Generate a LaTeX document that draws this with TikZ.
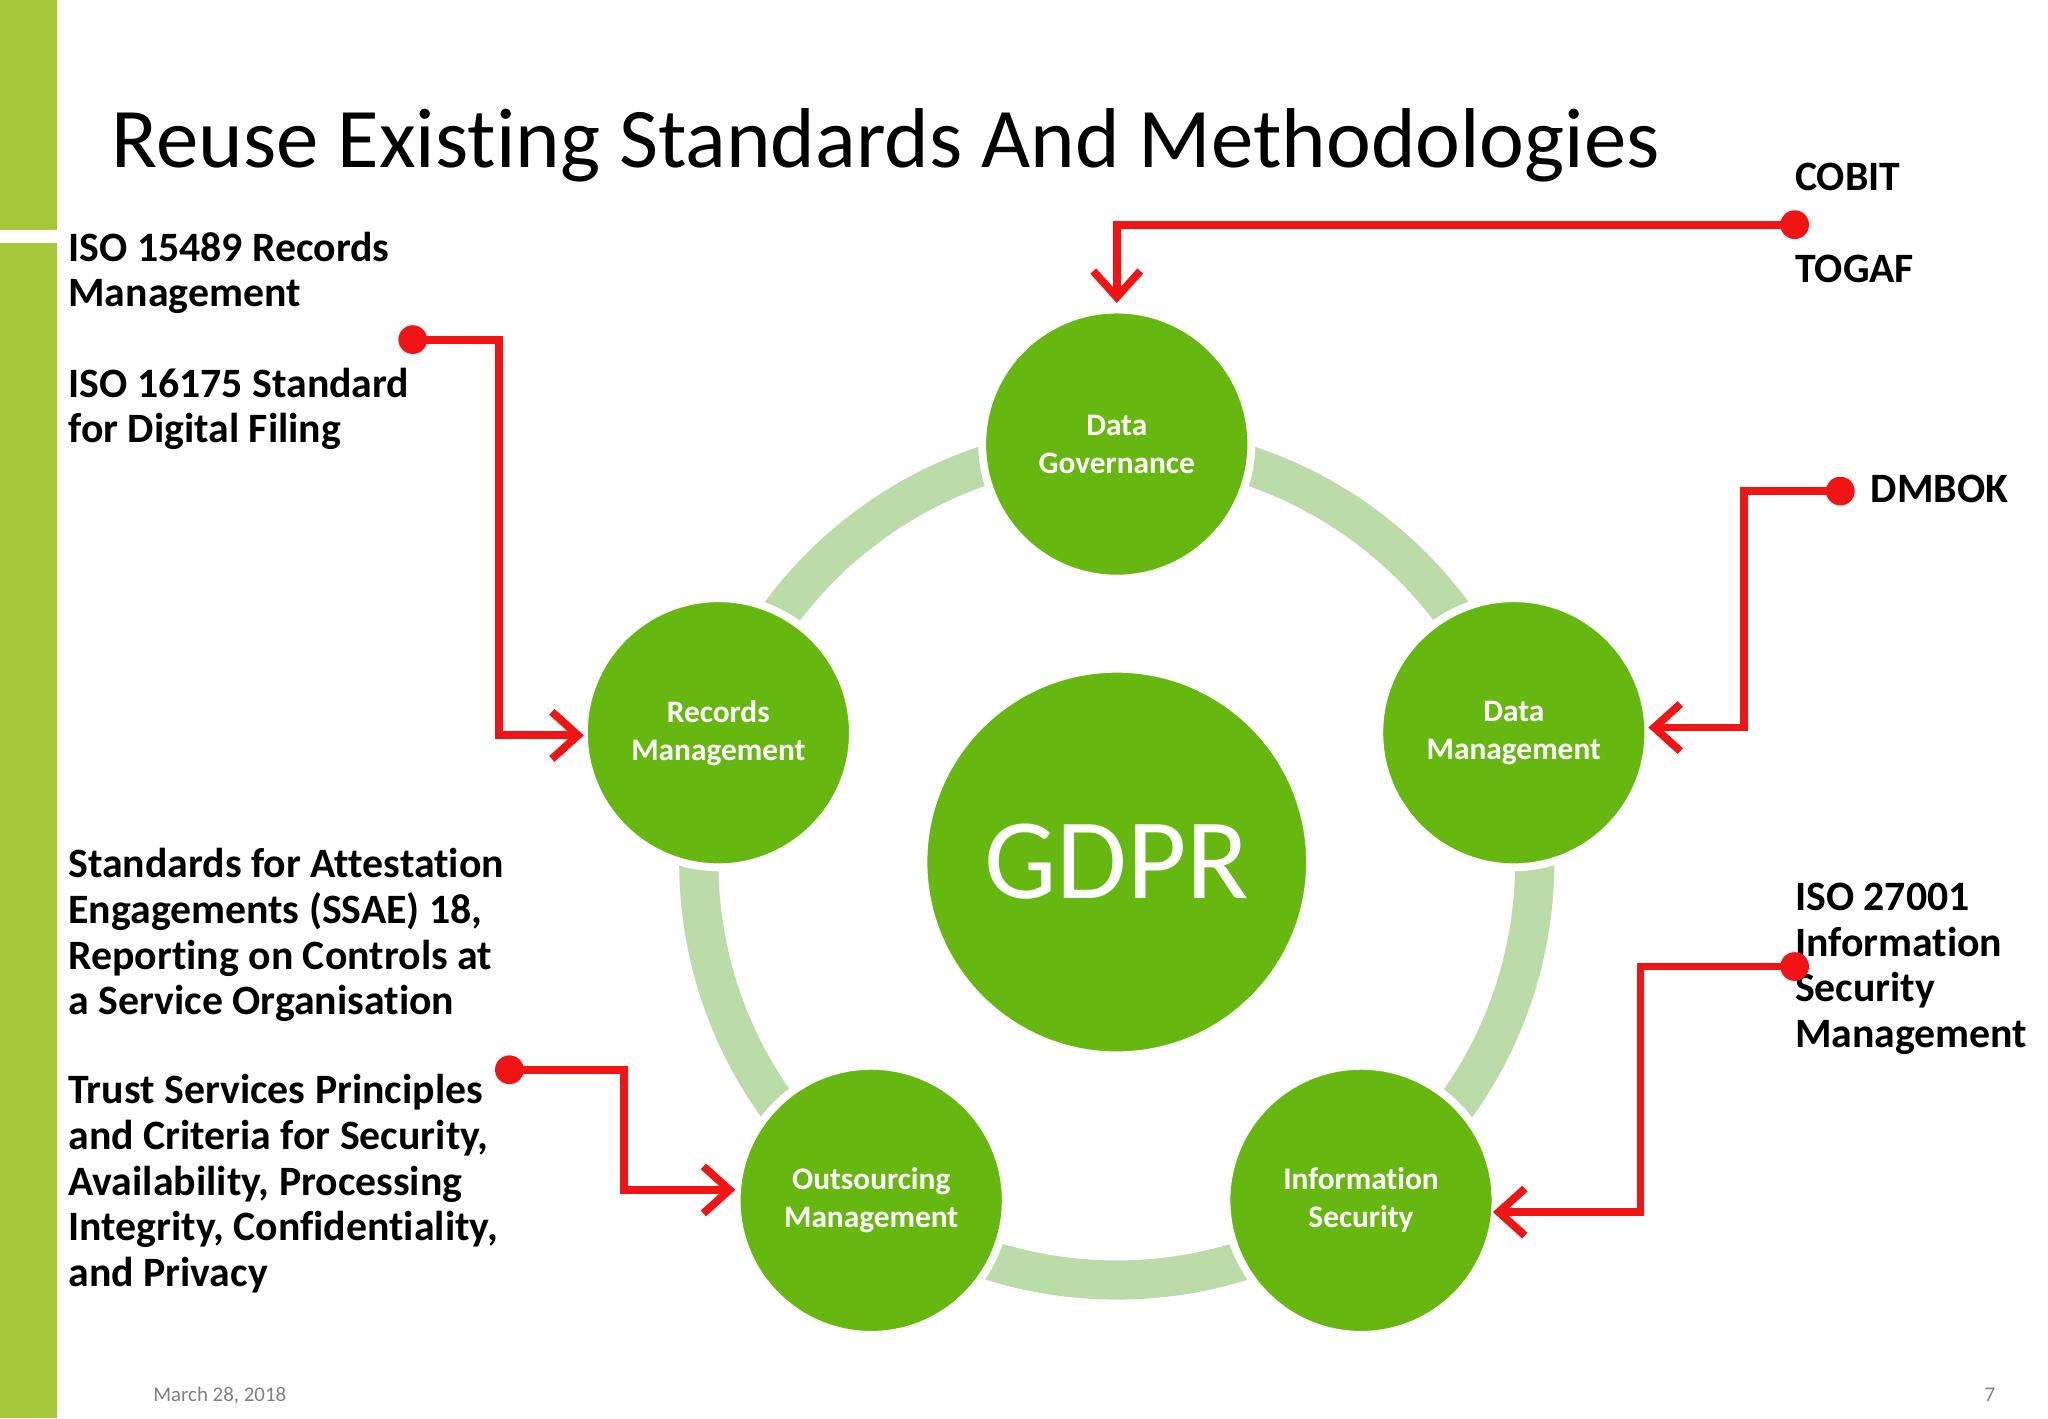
\documentclass[tikz,border=0pt]{standalone}
\usepackage{fontspec}
\setmainfont{Carlito}[Ligatures=NoCommon]
\usetikzlibrary{arrows.meta}
\definecolor{bar}{HTML}{A5C93A}
\definecolor{cg}{HTML}{66B710}
\definecolor{ring}{HTML}{BBDBA9}
\definecolor{rd}{HTML}{F01414}
\tikzset{
 circ/.style={circle,fill=cg,draw=white,line width=3pt,text=white,align=center,font=\bfseries\fontsize{12}{14.5}\selectfont},
 lbl/.style={anchor=base west,align=left,inner sep=0,font=\bfseries\fontsize{16}{17.5}\selectfont},
 rline/.style={draw=rd,line width=3pt,line join=miter},
 rarr/.style={rline,-{Straight Barb[length=10pt,width=18pt,line width=3pt]}},
 dotc/.style={circle,fill=rd,inner sep=0,minimum size=11pt}
}
\begin{document}
\begin{tikzpicture}[x=0.5pt,y=-0.5pt]
\useasboundingbox (0,0) rectangle (1568,1086);
\fill[white] (0,0) rectangle (1568,1086);
\fill[bar] (0,0) rectangle (44,176);
\fill[bar] (0,186) rectangle (44,1086);
\node[anchor=base west,inner sep=0,font=\fontsize{32.5}{38}\selectfont] (title) at (85,128) {Reuse Existing Standards And Methodologies};
% ring
\draw[ring,line width=15pt] (855,660) circle[radius=320];
\node[circ,minimum size=103pt] (dg) at (855,340) {Data\\Governance};
\node[circ,minimum size=103pt] (rm) at (550,561) {Records\\Management};
\node[circ,minimum size=103pt] (dm) at (1159,561) {Data\\Management};
\node[circ,minimum size=103pt] (om) at (667,919) {Outsourcing\\Management};
\node[circ,minimum size=103pt] (is) at (1042,919) {Information\\Security};
\node[circ,minimum size=148pt,font=\fontsize{44}{50}\selectfont] (gdpr) at (855,660) {GDPR};
% labels
\node[lbl] (l1) at (52,235) {ISO 15489 Records\\Management};
\node[lbl] (l2) at (52,339) {ISO 16175 Standard\\for Digital Filing};
\node[lbl] (l3) at (52,777) {Standards for Attestation\\Engagements (SSAE) 18,\\Reporting on Controls at\\a Service Organisation};
\node[lbl] (l4) at (52,985) {Trust Services Principles\\and Criteria for Security,\\Availability, Processing\\Integrity, Confidentiality,\\and Privacy};
\node[lbl] (l5) at (1374,146) {COBIT};
\node[lbl] (l6) at (1374,216) {TOGAF};
\node[lbl] (l7) at (1432,385) {DMBOK};
\node[lbl] (l8) at (1374,802) {ISO 27001\\Information\\Security\\Management};
\node[anchor=base west,inner sep=0,text=gray,font=\fontsize{8}{9}\selectfont] (date) at (117,1073) {March 28, 2018};
\node[anchor=base east,inner sep=0,text=gray,font=\fontsize{8}{9}\selectfont] (pg) at (1528,1073) {7};
% red connectors
\coordinate (a1) at (855,232);
\coordinate (a2) at (447,563);
\coordinate (a3) at (1262,557);
\coordinate (a4) at (1143,928);
\coordinate (a5) at (563,911);
\draw[rarr] (1374,172) -- (855,172) -- (a1);
\draw[rarr] (316,260) -- (382,260) -- (382,563) -- (a2);
\draw[rarr] (1409,376) -- (1335,376) -- (1335,557) -- (a3);
\draw[rarr] (1374,740) -- (1256,740) -- (1256,928) -- (a4);
\draw[rarr] (390,819) -- (478,819) -- (478,911) -- (a5);
\node[dotc] (d1) at (1374,172) {};
\node[dotc] (d2) at (316,260) {};
\node[dotc] (d3) at (1409,376) {};
\node[dotc] (d4) at (1374,740) {};
\node[dotc] (d5) at (390,819) {};
\end{tikzpicture}
\end{document}
